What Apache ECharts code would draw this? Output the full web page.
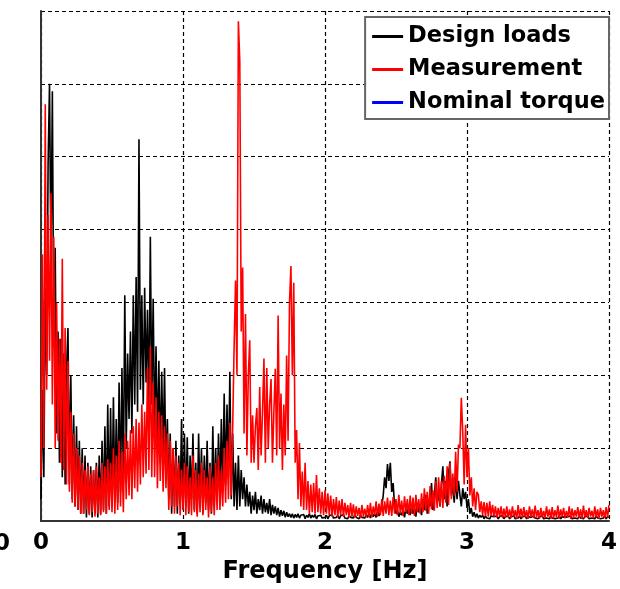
<!DOCTYPE html>
<html>
<head>
<meta charset="utf-8">
<script src="https://cdn.jsdelivr.net/npm/echarts@6/dist/echarts.min.js"></script>
<style>
  html, body { margin: 0; padding: 0; background: #fff; }
  #chart { width: 620px; height: 589px; }
</style>
</head>
<body>
<div id="chart"></div>
<script>
// frequency bins: 0.00 .. 4.00 Hz, step 0.01 Hz
var freqStep = 0.01;
var xTicks = ['0', '1', '2', '3', '4'];
var seriesNames = ['Design loads', 'Measurement', 'Nominal torque'];

// spectrum amplitude (one grid step = 1 unit)
var designLoads = [
  0.3, 1.8, 0.6, 3.2, 2.0, 4.9, 6.0, 3.6, 5.9, 2.4,
  3.75, 1.2, 2.6, 0.8, 2.5, 0.6, 2.3, 0.5, 2.1, 2.65,
  0.5, 2.0, 0.3, 1.45, 0.2, 1.3, 0.15, 1.1, 0.1, 1.0,
  0.1, 0.9, 0.05, 0.8, 0.1, 0.75, 0.05, 0.7, 0.1, 0.8,
  0.05, 0.9, 0.1, 1.1, 0.15, 1.3, 0.1, 1.6, 0.2, 1.55,
  0.2, 1.7, 0.3, 1.4, 0.25, 1.9, 0.4, 2.1, 0.5, 3.1,
  1.0, 2.3, 1.4, 2.6, 1.2, 3.1, 1.6, 3.35, 1.5, 5.24,
  1.8, 3.1, 1.6, 3.2, 1.9, 2.9, 1.5, 3.9, 1.6, 3.05,
  1.2, 2.4, 1.0, 2.2, 0.8, 2.05, 0.9, 2.1, 0.6, 1.4,
  0.3, 1.2, 0.1, 1.0, 0.2, 1.1, 0.1, 0.9, 0.3, 1.4,
  0.15, 1.2, 0.2, 1.15, 0.1, 0.9, 0.3, 1.2, 0.15, 0.8,
  0.1, 1.2, 0.2, 1.0, 0.1, 0.9, 0.25, 1.1, 0.15, 0.8,
  0.1, 1.3, 0.2, 1.0, 0.3, 1.2, 0.35, 1.4, 0.4, 1.75,
  0.5, 1.6, 0.6, 2.05, 0.3, 1.2, 0.2, 0.8, 0.15, 0.9,
  0.2, 0.7, 0.3, 0.6, 0.2, 0.5, 0.2, 0.4, 0.1, 0.35,
  0.15, 0.4, 0.1, 0.3, 0.15, 0.35, 0.1, 0.3, 0.12, 0.25,
  0.1, 0.3, 0.08, 0.22, 0.1, 0.2, 0.08, 0.18, 0.06, 0.15,
  0.07, 0.14, 0.05, 0.12, 0.06, 0.1, 0.05, 0.1, 0.04, 0.09,
  0.05, 0.1, 0.04, 0.08, 0.06, 0.09, 0.03, 0.08, 0.05, 0.1,
  0.04, 0.08, 0.05, 0.09, 0.03, 0.07, 0.05, 0.08, 0.04, 0.06,
  0.05, 0.08, 0.03, 0.07, 0.05, 0.09, 0.04, 0.06, 0.05, 0.08,
  0.03, 0.07, 0.05, 0.09, 0.04, 0.06, 0.03, 0.08, 0.05, 0.07,
  0.04, 0.09, 0.05, 0.07, 0.03, 0.08, 0.05, 0.06, 0.04, 0.09,
  0.05, 0.1, 0.04, 0.12, 0.06, 0.1, 0.05, 0.14, 0.07, 0.12,
  0.2, 0.35, 0.6, 0.45, 0.78, 0.55, 0.8, 0.4, 0.52, 0.2,
  0.1, 0.15, 0.06, 0.12, 0.08, 0.15, 0.05, 0.18, 0.1, 0.2,
  0.08, 0.22, 0.1, 0.18, 0.06, 0.25, 0.12, 0.2, 0.08, 0.3,
  0.15, 0.36, 0.1, 0.28, 0.2, 0.52, 0.15, 0.35, 0.6, 0.25,
  0.4, 0.2, 0.5, 0.75, 0.3, 0.55, 0.2, 0.65, 0.82, 0.35,
  0.5, 0.25, 0.6, 0.3, 0.55, 0.36, 0.2, 0.45, 0.3, 0.4,
  0.18, 0.3, 0.1, 0.18, 0.06, 0.12, 0.05, 0.1, 0.04, 0.08,
  0.05, 0.08, 0.03, 0.07, 0.04, 0.06, 0.03, 0.07, 0.05, 0.06,
  0.04, 0.07, 0.03, 0.06, 0.05, 0.08, 0.03, 0.06, 0.04, 0.07,
  0.03, 0.06, 0.05, 0.07, 0.03, 0.05, 0.04, 0.07, 0.03, 0.06,
  0.05, 0.07, 0.03, 0.06, 0.04, 0.05, 0.03, 0.07, 0.04, 0.06,
  0.03, 0.06, 0.04, 0.07, 0.03, 0.05, 0.04, 0.06, 0.03, 0.07,
  0.04, 0.06, 0.03, 0.05, 0.04, 0.07, 0.03, 0.06, 0.04, 0.05,
  0.03, 0.06, 0.04, 0.07, 0.03, 0.05, 0.04, 0.06, 0.03, 0.07,
  0.04, 0.05, 0.03, 0.06, 0.04, 0.07, 0.03, 0.05, 0.04, 0.06,
  0.03, 0.07, 0.04, 0.06, 0.03, 0.05, 0.04, 0.07, 0.03, 0.06,
  0.05
];

var measurement = [
  0.6, 3.66, 1.0, 5.72, 1.8, 4.2, 2.2, 4.5, 1.6, 3.9,
  1.0, 3.0, 1.1, 2.5, 0.8, 3.6, 0.7, 2.65, 0.5, 2.2,
  0.4, 1.5, 0.25, 1.2, 0.2, 1.0, 0.15, 0.9, 0.1, 0.8,
  0.1, 0.7, 0.15, 0.75, 0.08, 0.65, 0.12, 0.7, 0.06, 0.75,
  0.1, 0.6, 0.08, 0.8, 0.12, 0.75, 0.1, 0.85, 0.15, 0.8,
  0.12, 1.0, 0.1, 0.9, 0.15, 1.1, 0.2, 0.95, 0.12, 1.2,
  0.3, 1.1, 0.35, 1.25, 0.3, 1.3, 0.45, 1.4, 0.4, 1.35,
  0.5, 1.6, 0.6, 1.5, 0.65, 2.1, 0.7, 2.4, 0.6, 1.9,
  0.6, 1.7, 0.45, 1.5, 0.55, 1.45, 0.4, 1.3, 0.45, 1.2,
  0.15, 1.1, 0.2, 1.0, 0.1, 0.9, 0.2, 0.8, 0.08, 0.7,
  0.15, 0.8, 0.08, 0.75, 0.12, 0.6, 0.08, 0.9, 0.12, 0.7,
  0.06, 0.65, 0.12, 0.8, 0.08, 0.7, 0.15, 0.6, 0.05, 0.75,
  0.12, 0.6, 0.08, 0.8, 0.15, 0.9, 0.15, 0.7, 0.2, 1.0,
  0.25, 1.1, 0.3, 1.35, 0.35, 1.3, 2.4, 3.3, 2.0, 6.86,
  6.3, 2.6, 3.48, 1.2, 2.84, 0.9, 2.0, 2.48, 0.8, 1.45,
  0.8, 1.3, 1.55, 0.7, 1.84, 0.9, 1.5, 2.23, 0.8, 2.1,
  1.0, 1.6, 1.95, 0.8, 1.5, 2.09, 0.9, 2.82, 1.0, 1.75,
  0.7, 1.6, 0.9, 2.27, 1.1, 3.0, 3.5, 2.0, 3.27, 0.8,
  1.25, 0.3, 1.07, 0.2, 0.68, 0.15, 0.8, 0.15, 0.55, 0.1,
  0.5, 0.12, 0.52, 0.1, 0.63, 0.12, 0.45, 0.1, 0.4, 0.08,
  0.42, 0.1, 0.38, 0.08, 0.35, 0.06, 0.3, 0.08, 0.33, 0.05,
  0.28, 0.08, 0.3, 0.06, 0.25, 0.08, 0.22, 0.05, 0.25, 0.06,
  0.23, 0.05, 0.2, 0.07, 0.18, 0.04, 0.22, 0.06, 0.17, 0.05,
  0.22, 0.06, 0.25, 0.05, 0.2, 0.08, 0.27, 0.06, 0.24, 0.08,
  0.3, 0.07, 0.27, 0.1, 0.32, 0.08, 0.28, 0.07, 0.33, 0.1,
  0.3, 0.08, 0.36, 0.1, 0.28, 0.07, 0.34, 0.12, 0.3, 0.08,
  0.35, 0.1, 0.32, 0.07, 0.36, 0.12, 0.3, 0.1, 0.38, 0.12,
  0.45, 0.14, 0.4, 0.1, 0.48, 0.16, 0.42, 0.14, 0.55, 0.18,
  0.6, 0.2, 0.55, 0.18, 0.62, 0.25, 0.75, 0.22, 0.8, 0.3,
  0.65, 0.35, 0.95, 0.4, 1.05, 1.0, 1.69, 1.23, 0.5, 1.32,
  0.6, 1.0, 0.35, 0.6, 0.2, 0.45, 0.15, 0.4, 0.36, 0.12,
  0.27, 0.08, 0.26, 0.07, 0.25, 0.06, 0.27, 0.07, 0.22, 0.06,
  0.2, 0.05, 0.18, 0.06, 0.2, 0.04, 0.17, 0.05, 0.2, 0.05,
  0.16, 0.04, 0.2, 0.06, 0.15, 0.03, 0.22, 0.05, 0.17, 0.04,
  0.19, 0.05, 0.15, 0.03, 0.2, 0.06, 0.16, 0.04, 0.21, 0.05,
  0.15, 0.03, 0.18, 0.05, 0.14, 0.04, 0.2, 0.06, 0.16, 0.03,
  0.19, 0.04, 0.15, 0.05, 0.21, 0.03, 0.16, 0.06, 0.18, 0.04,
  0.14, 0.05, 0.2, 0.03, 0.17, 0.04, 0.15, 0.06, 0.19, 0.04,
  0.16, 0.03, 0.21, 0.05, 0.15, 0.04, 0.18, 0.06, 0.14, 0.04,
  0.2, 0.05, 0.16, 0.03, 0.18, 0.06, 0.15, 0.04, 0.19, 0.05,
  0.22
];

var nominalTorque = [];

function toPairs(arr) {
  return arr.map(function (v, i) { return [+(i * freqStep).toFixed(2), v]; });
}

var fontFam = "'DejaVu Sans', sans-serif";
var gridDash = { color: '#000', width: 1.2, type: [4, 3] };

var myChart = echarts.init(document.getElementById('chart'));

var option = {
  animation: false,
  backgroundColor: '#fff',
  grid: { left: 41, right: 8, top: 11, bottom: 66 },
  legend: {
    orient: 'vertical',
    right: 11,
    top: 17,
    data: seriesNames,
    icon: 'rect',
    itemWidth: 31,
    itemHeight: 3,
    itemGap: 10,
    padding: [8, 4, 5, 7],
    borderColor: '#666',
    borderWidth: 2,
    backgroundColor: '#fff',
    textStyle: { fontFamily: fontFam, fontSize: 22.5, fontWeight: 'bold', color: '#000' }
  },
  xAxis: {
    type: 'value',
    min: 0,
    max: 4,
    interval: 1,
    name: 'Frequency [Hz]',
    nameLocation: 'middle',
    nameGap: 39,
    nameTextStyle: { fontFamily: fontFam, fontSize: 24, fontWeight: 'bold', color: '#000' },
    axisLine: { lineStyle: { color: '#333', width: 2 } },
    axisTick: { show: false },
    axisLabel: {
      margin: 11,
      fontFamily: fontFam, fontSize: 23, fontWeight: 'bold', color: '#000',
      formatter: function (v) { return xTicks[Math.round(v)]; }
    },
    splitLine: { show: true, lineStyle: gridDash }
  },
  yAxis: {
    type: 'value',
    min: 0,
    max: 7,
    interval: 1,
    axisLine: { show: true, lineStyle: { color: '#333', width: 2 } },
    axisTick: { show: false },
    axisLabel: { show: false },
    splitLine: { show: true, lineStyle: gridDash }
  },
  graphic: [{
    type: 'text',
    left: -6,
    top: 533,
    style: { text: '0', fontFamily: fontFam, fontSize: 23, fontWeight: 'bold', fill: '#000' }
  }],
  series: [
    {
      name: seriesNames[0],
      type: 'line',
      data: toPairs(designLoads),
      symbol: 'none',
      color: '#000',
      lineStyle: { width: 1.6, color: '#000' }
    },
    {
      name: seriesNames[1],
      type: 'line',
      data: toPairs(measurement),
      symbol: 'none',
      color: '#ff0000',
      lineStyle: { width: 1.6, color: '#ff0000' }
    },
    {
      name: seriesNames[2],
      type: 'line',
      data: nominalTorque,
      symbol: 'none',
      color: '#0000ff',
      lineStyle: { width: 2, color: '#0000ff' }
    }
  ]
};

myChart.setOption(option);
</script>
</body>
</html>
